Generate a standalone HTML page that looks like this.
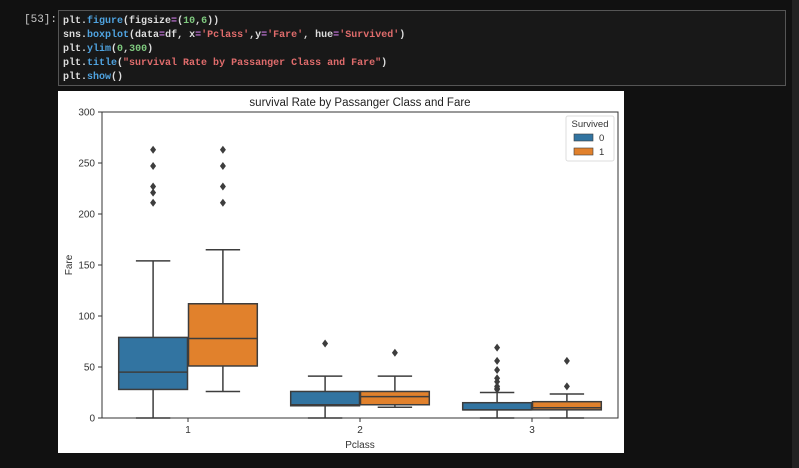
<!DOCTYPE html>
<html><head><meta charset="utf-8"><style>
body{margin:0;width:799px;height:468px;background:#111;overflow:hidden;position:relative;font-family:"Liberation Sans",sans-serif}
#prompt{position:absolute;left:24px;top:14px;color:#c8c8c8;font:11px "Liberation Mono",monospace}
#code{position:absolute;left:58px;top:10px;width:728px;height:76px;border:1px solid #555;background:#181818;box-sizing:border-box;padding:4px 0 0 4px;font:bold 10px/14px "Liberation Mono",monospace;color:#ddd;white-space:pre}
.f{color:#4fa3e0}.s{color:#e06c6c}.n{color:#7ec97e}.o{color:#c678dd}
#scroll{position:absolute;left:792px;top:0;width:7px;height:468px;background:#222}
#fig{position:absolute;left:58px;top:91px}
</style></head><body>
<div id="prompt">[53]:</div>
<div id="code">plt.<span class="f">figure</span>(figsize<span class="o">=</span>(<span class="n">10</span>,<span class="n">6</span>))
sns.<span class="f">boxplot</span>(data<span class="o">=</span>df, x<span class="o">=</span><span class="s">'Pclass'</span>,y<span class="o">=</span><span class="s">'Fare'</span>, hue<span class="o">=</span><span class="s">'Survived'</span>)
plt.<span class="f">ylim</span>(<span class="n">0</span>,<span class="n">300</span>)
plt.<span class="f">title</span>(<span class="s">"survival Rate by Passanger Class and Fare"</span>)
plt.<span class="f">show</span>()</div>
<div id="scroll"></div>
<svg id="fig" width="566" height="362" font-family="Liberation Sans, sans-serif">
<rect width="566" height="362" fill="#fff"/>
<g id="plot"></g>
</svg>
<script>
const categories=['1','2','3'];
const hues=['0','1'];
const colors=['#3274a1','#e1812c'];
// [whiskerLow,q1,median,q3,whiskerHigh]
const stats0=[[0,28,45,79,154],[0,12,13,26,41],[0,8,8,15,25]];
const stats1=[[26,51,78,112,165],[10.5,13,21,26,41],[0,8,10,16,23.5]];
const outliers0=[[263,247,227,221,211],[73],[69,56,47,39,35.5,31,29,28]];
const outliers1=[[263,247,227,211],[64],[56,31]];
const yTicks=[0,50,100,150,200,250,300];
const ox=58,oy=91;
const L=102-ox,R=618-ox,T=112-oy,B=418-oy;
const y=v=>B-(v/300)*(B-T);
const band=(R-L)/categories.length;
const xc=i=>L+band*(i+0.5);
const NS='http://www.w3.org/2000/svg';
const g=document.getElementById('plot');
function mk(t,a,p){const e=document.createElementNS(NS,t);for(const k in a)e.setAttribute(k,a[k]);(p||g).appendChild(e);return e;}
const title=mk('text',{x:(L+R)/2,y:T-6,'text-anchor':'middle','font-size':11.5,fill:'#222'});title.textContent='survival Rate by Passanger Class and Fare';

yTicks.forEach(v=>{mk('line',{x1:L-4,x2:L,y1:y(v),y2:y(v),stroke:'#333'});const t=mk('text',{x:L-7,y:y(v)+3.5,'text-anchor':'end','font-size':10,fill:'#333'});t.textContent=v;
});
const yl=mk('text',{transform:`translate(${L-30},${(T+B)/2}) rotate(-90)`,'text-anchor':'middle','font-size':10,fill:'#333'});yl.textContent='Fare';

const hw=band*0.4;
[stats0,stats1].forEach((S,h)=>{S.forEach((s,i)=>{
 const cx=xc(i)+(h?hw/2+0.5:-hw/2-0.5);const w=hw;const grp=mk('g',{});
 
 const st={stroke:'#3d3d3d','stroke-width':1.5};
 mk('line',Object.assign({x1:cx,x2:cx,y1:y(s[0]),y2:y(s[1])},st),grp);
 mk('line',Object.assign({x1:cx,x2:cx,y1:y(s[3]),y2:y(s[4])},st),grp);
 mk('line',Object.assign({x1:cx-w/4,x2:cx+w/4,y1:y(s[0]),y2:y(s[0])},st),grp);
 mk('line',Object.assign({x1:cx-w/4,x2:cx+w/4,y1:y(s[4]),y2:y(s[4])},st),grp);
 mk('rect',Object.assign({x:cx-w/2,y:y(s[3]),width:w,height:y(s[1])-y(s[3]),fill:colors[h]},st),grp);
 mk('line',Object.assign({x1:cx-w/2,x2:cx+w/2,y1:y(s[2]),y2:y(s[2])},st),grp);
 (h?outliers1:outliers0)[i].forEach(v=>{const d=mk('path',{d:`M${cx},${y(v)-4}L${cx+3},${y(v)}L${cx},${y(v)+4}L${cx-3},${y(v)}Z`,fill:'#3d3d3d'},grp);
  });
});});
mk('rect',{x:L,y:T,width:R-L,height:B-T,fill:'none',stroke:'#333','stroke-width':1});
categories.forEach((c,i)=>{mk('line',{x1:xc(i),x2:xc(i),y1:B,y2:B+4,stroke:'#333'});const t=mk('text',{x:xc(i),y:B+15,'text-anchor':'middle','font-size':10,fill:'#333'});t.textContent=c;
});
const xl=mk('text',{x:(L+R)/2,y:B+30,'text-anchor':'middle','font-size':10,fill:'#333'});xl.textContent='Pclass';

const lg=mk('g',{});
const lx=566-ox,ly=116-oy;
mk('rect',{x:lx,y:ly,width:48,height:45,fill:'#fff',stroke:'#ddd',rx:2},lg);
const lt=mk('text',{x:lx+24,y:ly+11,'text-anchor':'middle','font-size':9.5,fill:'#333'},lg);lt.textContent='Survived';
hues.forEach((h,k)=>{const e=mk('g',{},lg);
 mk('rect',{x:lx+8,y:ly+18+k*14,width:19,height:7,fill:colors[k],stroke:'#3d3d3d','stroke-width':0.6},e);
 const t=mk('text',{x:lx+33,y:ly+25+k*14,'font-size':9.5,fill:'#333'},e);t.textContent=h;});
</script>
</body></html>
